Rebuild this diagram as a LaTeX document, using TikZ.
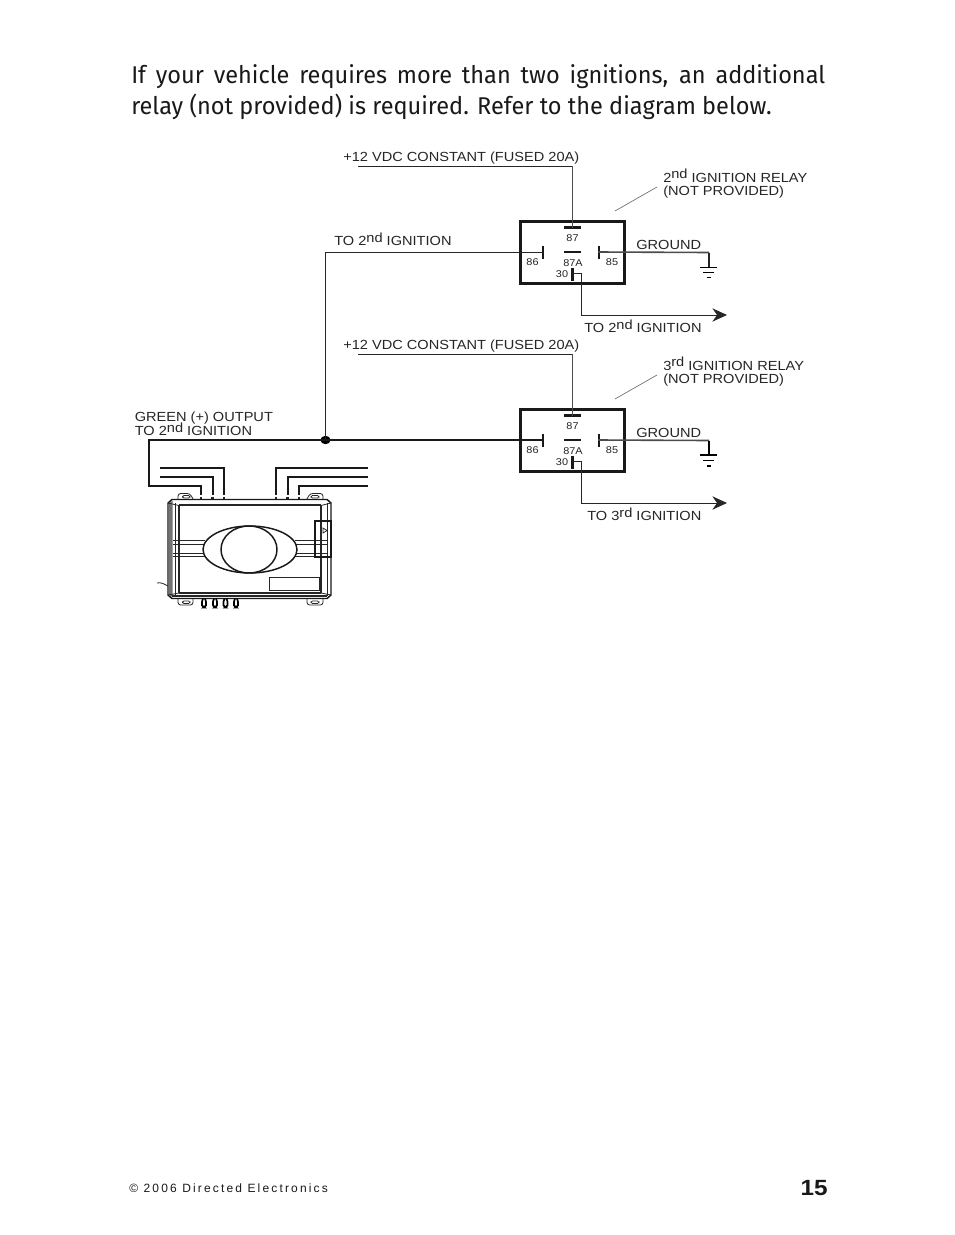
\documentclass[tikz,border=0pt]{standalone}
\usepackage{fontspec}
\setmainfont{Liberation Sans}
\newfontfamily\headfont[FakeStretch=0.97]{Fira Sans}
\newfontfamily\labfont[FakeStretch=1.105]{Liberation Sans}
\newfontfamily\footfont{Liberation Sans}
\usetikzlibrary{arrows.meta}
\tikzset{
 x=0.75pt,y=-0.75pt,
 lab/.style={inner sep=0pt,anchor=base west,font=\labfont\fontsize{9.9}{11}\selectfont,text=black!85},
 pin/.style={inner sep=0pt,anchor=base,font=\labfont\fontsize{7.4}{9}\selectfont,text=black!85},
 head/.style={inner sep=0pt,anchor=base west,font=\headfont\fontsize{18.2}{23}\selectfont,text=black!90},
 wire/.style={line width=0.75pt,draw=black!85},
 gwire/.style={line width=1.2pt,draw=black!70},
 hwire/.style={line width=1.5pt,draw=black!90},
 relaybox/.style={line width=1.7pt,draw=black!90},
 cbar/.style={line width=1.8pt,draw=black!90},
 mod/.style={line width=0.6pt,draw=black!85},
 modm/.style={line width=0.8pt,draw=black!85},
 modt/.style={line width=1.1pt,draw=black!90},
 arr/.style={line width=0.75pt,draw=black!85,-{Stealth[length=11pt,width=10pt]}}
}
\newcommand{\ord}[2]{#1\raisebox{0.26em}{#2}}
\begin{document}
\begin{tikzpicture}
\useasboundingbox (0,0) rectangle (954,1235);
\fill[white] (0,0) rectangle (954,1235);
% heading
\node[head] (hd1) at (131,83) {\makebox[520.5pt][s]{If your vehicle requires more than two ignitions, an additional}};
\node[head] (hd2) at (131,114) {relay (not provided) is required. Refer to the diagram below.};
% footer
\node[inner sep=0pt,anchor=base west,font=\footfont\fontsize{9}{11}\selectfont\addfontfeature{LetterSpace=18},text=black!90] (ft) at (129,1192) {© 2006 Directed Electronics};
\node[inner sep=0pt,anchor=base east,font=\labfont\bfseries\fontsize{16.5}{20}\selectfont,text=black!90] (pg) at (828,1195) {15};
% relays
\foreach \r/\dy/\gy in {a/0/249,b/188/249.5}{
 \begin{scope}[yshift=-\dy*0.75pt]
 \node[relaybox,draw,minimum width=78pt,minimum height=46.5pt,inner sep=0pt] (\r box) at (572.5,252.5) {};
 \coordinate (\r n86) at (543,252);
 \coordinate (\r n85) at (598,252);
 \coordinate (\r n87) at (572.5,228);
 \coordinate (\r n30) at (572,273.5);
 \draw[cbar] (564,227.5) -- (581,227.5);
 \draw[cbar] (564,252) -- (581,252);
 \draw[cbar] (543,246) -- (543,258.5);
 \draw[line width=2.2pt,draw=black!90] (599,246) -- (599,258.5);
 \draw[cbar] (572.3,268) -- (572.3,280.5);
 \node[pin] (\r p87) at (572.5,241) {87};
 \node[pin] (\r p86) at (532.5,265) {86};
 \node[pin] (\r p85) at (612,265) {85};
 \node[pin] (\r p87a) at (573,266) {87A};
 \node[pin] (\r p30) at (562,277) {30};
 \draw[line width=0.4pt,draw=black!70] (615,211) -- (657,187);
 \node[lab] (\r gnd) at (636,\gy) {GROUND};
 \coordinate (\r a) at (709,252.5);
 \coordinate (\r t1) at (572.5,166);
 \coordinate (\r t0) at (358,166);
 \coordinate (\r o1) at (581.5,273.5);
 \coordinate (\r o2) at (581.5,315);
 \coordinate (\r o3) at (727,315);
 \draw[wire] (\r t0) -- (\r t1);
 \draw[gwire] (\r t1) -- (\r n87);
 \draw[gwire] (\r n85) -- (\r a);
 \draw[wire] (\r n30) -- (\r o1);
 \draw[arr] (\r o1) -- (\r o2) -- (\r o3);
 \node[lab] (\r t12) at (343,161) {+12 VDC CONSTANT (FUSED 20A)};
 \end{scope}
}
% ground symbols
\draw[line width=1pt,draw=black!85] (709,252.5) -- (709,267);
\draw[line width=1.3pt] (709,440.5) -- (709,455);
\draw[line width=0.6pt] (700,267) -- (717,267) (703,272) -- (714,272) (706.5,277.5) -- (711,277.5);
\draw[line width=1.1pt] (700,455) -- (717,455) (703,460.5) -- (714,460.5) (706.5,466) -- (711,466);
% labels
\node[lab] (l1) at (663,182) {\ord{2}{nd} IGNITION RELAY};
\node[lab] (l2) at (663,195) {(NOT PROVIDED)};
\node[lab] (l3) at (663,370) {\ord{3}{rd} IGNITION RELAY};
\node[lab] (l4) at (663,383) {(NOT PROVIDED)};
\node[lab] (l5) at (334,245.5) {TO \ord{2}{nd} IGNITION};
\node[lab] (l6) at (584,332.5) {TO \ord{2}{nd} IGNITION};
\node[lab] (l7) at (587,520.5) {TO \ord{3}{rd} IGNITION};
\node[lab] (l8) at (134.5,421.5) {GREEN (+) OUTPUT};
\node[lab] (l9) at (134.5,435.5) {TO \ord{2}{nd} IGNITION};
% main wiring
\coordinate (jn) at (325.5,440);
\fill[black] (jn) ellipse[x radius=5,y radius=4.2];
\draw[wire] (jn) -- (325.5,252) -- (543,252);
\draw[hwire] (543,440.3) -- (149,440.3) -- (149,486) -- (201,486) -- (201,495);
% harness
\draw[hwire] (160,476.7) -- (212.5,476.7) -- (212.5,495);
\draw[hwire] (160,467.7) -- (224,467.7) -- (224,495);
\draw[hwire] (368,467.7) -- (276,467.7) -- (276,495);
\draw[hwire] (368,476.7) -- (287.5,476.7) -- (287.5,495);
\draw[hwire] (368,486) -- (299,486) -- (299,495);
\foreach \x in {201,212.5,224,276,287.5,299}{
 \draw[line width=1.6pt,draw=black!85] (\x,496.5) -- (\x,500);
}
% module
\draw[mod,rounded corners=2pt] (178,499) -- (178,493.5) -- (190,493.5) -- (193,499);
\draw[mod,rounded corners=1pt] (182.5,495.5) rectangle (190,498);
\draw[mod,rounded corners=2pt] (307,499) -- (310,493.5) -- (323,493.5) -- (323,499);
\draw[mod,rounded corners=1pt] (311,495.5) rectangle (319,498);
\draw[mod,rounded corners=2pt] (178,599) -- (178,605) -- (193,605) -- (193,599);
\draw[mod,rounded corners=1pt] (182.5,601) rectangle (190,603.5);
\draw[mod,rounded corners=2pt] (307,599) -- (307,605) -- (323,605) -- (323,599);
\draw[mod,rounded corners=1pt] (311,601) rectangle (319,603.5);
% body
\draw[modt] (172,499.5) -- (327,499.5) -- (331,503) -- (331,595) -- (327,598.5) -- (172,598.5) -- (168,595) -- (168,503) -- cycle;
\fill[black!55] (169,503) -- (172.5,501) -- (172.5,597) -- (169,595) -- cycle;
\draw[mod] (168,503) -- (179,505.5) (168,595) -- (179,593);
\draw[mod] (331,503) -- (321,505.5) (331,595) -- (321,593);
\draw[modm] (179,505) -- (321,505);
\draw[modm] (179,593) -- (321,593);
\draw[modm] (172,596) -- (327,596);
\draw[mod] (175,503) -- (175,596);
\draw[modm] (179,505) -- (179,593);
\draw[modm] (321,505) -- (321,593);
\draw[mod] (327,503) -- (327,596);
\draw[mod] (173,540) -- (205,540) (173,544) -- (204,544) (173,553) -- (204,553) (173,556.5) -- (206,556.5);
\draw[mod] (295,540) -- (327,540) (296,544) -- (327,544) (296,553) -- (327,553) (294,556.5) -- (327,556.5);
\draw[modt,fill=white] (250,549.5) ellipse[x radius=47,y radius=23.5];
\draw[modt] (249,549.5) ellipse[x radius=28,y radius=23.5];
\draw[modt] (315,521) rectangle (331,557);
\draw[mod] (323,528) -- (323,533) -- (327,530.5) -- cycle;
\draw[mod] (269,577) rectangle (319,590);
\draw[mod] (157,583) .. controls (161,582) and (164,584) .. (168,586);
\foreach \x in {204,215,225.5,236}{
 \draw[line width=1.3pt,rounded corners=1.5pt] (\x-1,598.5) -- (\x-2.5,603) -- (\x-1.5,607.5) -- (\x+1.5,607.5) -- (\x+2.5,603) -- (\x+1,598.5);
}
\end{tikzpicture}
\end{document}
